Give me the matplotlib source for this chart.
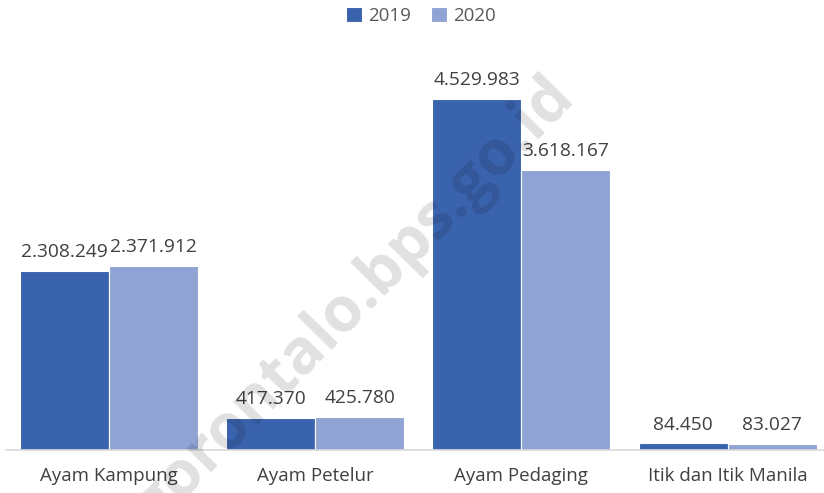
import matplotlib
matplotlib.use("Agg")
import matplotlib.pyplot as plt
import numpy as np

categories = ["Ayam Kampung", "Ayam Petelur", "Ayam Pedaging", "Itik dan Itik Manila"]
series_names = ["2019", "2020"]
values_2019 = [2308249, 417370, 4529983, 84450]
values_2020 = [2371912, 425780, 3618167, 83027]
labels_2019 = ["2.308.249", "417.370", "4.529.983", "84.450"]
labels_2020 = ["2.371.912", "425.780", "3.618.167", "83.027"]

c2019 = "#3A63AD"
c2020 = "#8FA3D4"
txt = "#404040"
font = "Open Sans"

W, H = 824, 493
fig = plt.figure(figsize=(W / 100, H / 100), dpi=100)
base_px = 450
top_px = 50
ax = fig.add_axes([0, 1 - base_px / H, 1, (base_px - top_px) / H])
ymax = 400 * 4529983 / 351
ax.set_ylim(0, ymax)
ax.set_xlim(-109 / 206.2, (824 - 109) / 206.2)

x = np.arange(len(categories))
bw = 89 / 206.2
b1 = ax.bar(x - bw / 2, values_2019, bw, color=c2019, edgecolor="white", linewidth=0.8, label=series_names[0], zorder=2)
b2 = ax.bar(x + bw / 2, values_2020, bw, color=c2020, edgecolor="white", linewidth=0.8, label=series_names[1], zorder=2)

for rects, labs in ((b1, labels_2019), (b2, labels_2020)):
    for r, lab in zip(rects, labs):
        ax.annotate(lab, (r.get_x() + r.get_width() / 2, r.get_height()),
                    xytext=(0, 7), textcoords="offset points", ha="center", va="bottom",
                    fontsize=13.8, color=txt, family=font, zorder=3)

for s in ["top", "right", "left"]:
    ax.spines[s].set_visible(False)
ax.spines["bottom"].set_color("#D9D9D9")
ax.spines["bottom"].set_linewidth(1.2)
ax.spines["bottom"].set_bounds(-0.5, 3.5)
ax.set_yticks([])
ax.set_xticks(x)
ax.set_xticklabels(categories, fontsize=13.5, color=txt, family=font)
ax.tick_params(axis="x", length=0, pad=12)

leg = fig.legend(loc="center", bbox_to_anchor=(421 / W, 1 - 16 / H), ncol=2, frameon=False,
                 prop={"family": font, "size": 13.5}, handlelength=0.85, handleheight=0.85,
                 handletextpad=0.3, columnspacing=1.1, labelcolor="#595959")

fig.text(355 / W, 1 - 302 / H, "gorontalo.bps.go.id", rotation=45.5, ha="center", va="center",
         fontsize=45, fontweight="bold", color="#000000", alpha=0.12, family=font, zorder=10)

fig.savefig("out.png", dpi=100)
